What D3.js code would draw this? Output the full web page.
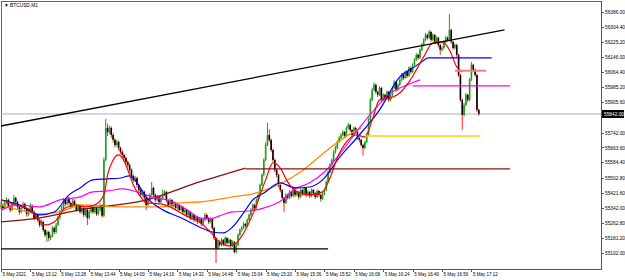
<!DOCTYPE html>
<html lang="en">
<head>
<meta charset="UTF-8">
<title>BTCUSD,M1</title>
<script src="https://cdn.jsdelivr.net/npm/d3@7/dist/d3.min.js"></script>
<style>
  body { margin: 0; background: #fff; }
  svg { display: block; }
  .axis text { font-family: "Liberation Sans", Arial, sans-serif; font-size: 4.8px; fill: #000; }
  .xaxis text { font-size: 4.5px; }
  .axis path, .axis line { stroke: #555; shape-rendering: crispEdges; }
  .title { font-family: "Liberation Sans", Arial, sans-serif; font-size: 4.8px; }
</style>
</head>
<body>
<script>
// M1 bars, 5 May 2021 from 12:56
var opens = [55350,55357,55341,55368,55384,55352,55331,55363,55395,55373,
55347,55320,55341,55363,55336,55309,55331,55352,55320,55288,
55304,55277,55251,55267,55224,55197,55213,55181,55192,55235,
55213,55251,55288,55320,55341,55384,55363,55395,55368,55347,
55379,55357,55331,55352,55320,55341,55304,55331,55288,55320,
55347,55320,55341,55309,55331,55357,55300,55597,55768,55746,
55768,55730,55704,55677,55693,55661,55640,55624,55608,55586,
55570,55544,55512,55491,55501,55464,55437,55411,55427,55395,
55357,55384,55411,55448,55411,55384,55400,55373,55395,55411,
55427,55384,55357,55384,55352,55368,55341,55357,55331,55347,
55320,55331,55304,55320,55288,55304,55277,55293,55267,55283,
55256,55277,55304,55288,55267,55283,55235,55181,55128,55160,
55144,55171,55149,55181,55155,55171,55139,55160,55107,55144,
55197,55224,55235,55256,55245,55277,55304,55331,55357,55341,
55384,55411,55464,55517,55597,55677,55730,55704,55650,55597,
55544,55517,55464,55437,55395,55368,55411,55395,55427,55405,
55437,55411,55427,55400,55437,55416,55448,55411,55427,55405,
55437,55421,55400,55432,55411,55389,55416,55437,55480,55533,
55570,55597,55640,55661,55693,55714,55730,55746,55725,55768,
55784,55757,55730,55768,55746,55714,55704,55677,55661,55693,
55730,55810,55917,55970,55997,55960,55944,55981,55917,55944,
55928,55960,55917,55944,55981,56013,55970,55997,56024,56050,
56034,56066,56045,56088,56066,56104,56130,56157,56141,56184,
56210,56237,56263,56248,56279,56237,56263,56226,56248,56210,
56184,56194,56226,56248,56237,56290,56226,56194,56210,56157,
56050,55917,55837,55890,55944,55917,56024,56104,56077,56050,
55864];
var highs = [55375,55366,55382,55398,55392,55360,55371,55410,55402,55380,
55355,55352,55375,55370,55344,55340,55366,55360,55328,55315,
55312,55285,55280,55274,55232,55222,55220,55200,55245,55242,
55262,55298,55330,55352,55395,55392,55405,55402,55375,55390,
55386,55364,55362,55358,55350,55348,55340,55338,55330,55356,
55355,55350,55348,55340,55366,55362,55610,55816,55790,55780,
55776,55740,55712,55705,55700,55668,55650,55632,55615,55595,
55578,55552,55520,55512,55508,55470,55445,55438,55434,55402,
55392,55420,55480,55455,55418,55410,55406,55405,55440,55436,
55432,55390,55394,55390,55378,55374,55366,55362,55356,55352,
55340,55336,55330,55326,55314,55310,55302,55298,55292,55288,
55288,55314,55312,55294,55292,55288,55240,55186,55170,55168,
55180,55176,55190,55186,55180,55176,55168,55165,55152,55206,
55232,55245,55265,55262,55286,55312,55340,55366,55364,55392,
55420,55472,55526,55606,55690,55795,55760,55712,55658,55605,
55552,55524,55470,55442,55400,55420,55418,55436,55432,55446,
55444,55436,55432,55446,55442,55456,55452,55436,55432,55446,
55444,55426,55440,55436,55416,55424,55446,55488,55542,55580,
55606,55648,55672,55702,55724,55740,55756,55752,55776,55795,
55790,55762,55776,55774,55752,55722,55710,55684,55700,55740,
55820,55928,55982,56010,56004,55966,55990,55986,55952,55950,
55968,55966,55952,55990,56022,56018,56006,56032,56060,56058,
56074,56072,56096,56094,56112,56140,56166,56164,56192,56220,
56246,56274,56270,56290,56284,56272,56268,56256,56254,56216,
56204,56234,56258,56256,56376,56296,56232,56218,56216,56162,
56056,55924,55900,55954,55950,56034,56120,56110,56084,56056,
55870];
var lows = [55335,55328,55333,55360,55340,55318,55325,55356,55362,55336,
55305,55312,55335,55326,55296,55300,55322,55310,55275,55280,
55265,55238,55242,55212,55185,55160,55165,55170,55186,55200,
55206,55244,55280,55312,55334,55350,55356,55358,55336,55340,
55345,55320,55325,55310,55312,55292,55296,55250,55280,55312,
55310,55312,55298,55302,55322,55290,55293,55590,55725,55735,
55715,55690,55664,55668,55648,55628,55612,55596,55572,55555,
55530,55498,55478,55482,55450,55424,55398,55402,55382,55330,
55350,55378,55405,55400,55372,55376,55360,55366,55388,55404,
55372,55345,55350,55340,55345,55330,55334,55320,55324,55308,
55312,55292,55296,55276,55280,55266,55270,55256,55260,55245,
55250,55270,55278,55256,55260,55224,55170,55048,55118,55132,
55138,55138,55142,55145,55148,55128,55132,55098,55100,55138,
55190,55215,55228,55236,55240,55270,55296,55325,55332,55336,
55378,55405,55458,55510,55590,55670,55692,55640,55586,55532,
55505,55452,55425,55385,55320,55362,55385,55388,55396,55398,
55400,55404,55388,55394,55405,55410,55400,55404,55394,55398,
55410,55388,55394,55400,55376,55382,55410,55430,55474,55525,
55562,55590,55632,55654,55686,55706,55722,55714,55718,55760,
55746,55720,55724,55736,55704,55692,55666,55620,55654,55686,
55724,55804,55910,55962,55948,55932,55938,55906,55910,55918,
55922,55906,55910,55938,55975,55960,55964,55990,56016,56024,
56028,56034,56040,56056,56060,56098,56124,56132,56136,56176,
56202,56230,56238,56242,56226,56230,56216,56220,56198,56157,
56176,56188,56220,56228,56230,56216,56184,56186,56146,56040,
55906,55757,55830,55884,55906,55910,56018,56066,56040,55852,
55832];
var closes = [55357,55341,55368,55384,55352,55331,55363,55395,55373,55347,
55320,55341,55363,55336,55309,55331,55352,55320,55288,55304,
55277,55251,55267,55224,55197,55213,55181,55192,55235,55213,
55251,55288,55320,55341,55384,55363,55395,55368,55347,55379,
55357,55331,55352,55320,55341,55304,55331,55288,55320,55347,
55320,55341,55309,55331,55357,55300,55597,55768,55746,55768,
55730,55704,55677,55693,55661,55640,55624,55608,55586,55570,
55544,55512,55491,55501,55464,55437,55411,55427,55395,55357,
55384,55411,55448,55411,55384,55400,55373,55395,55411,55427,
55384,55357,55384,55352,55368,55341,55357,55331,55347,55320,
55331,55304,55320,55288,55304,55277,55293,55267,55283,55256,
55277,55304,55288,55267,55283,55235,55181,55128,55160,55144,
55171,55149,55181,55155,55171,55139,55160,55107,55144,55197,
55224,55235,55256,55245,55277,55304,55331,55357,55341,55384,
55411,55464,55517,55597,55677,55730,55704,55650,55597,55544,
55517,55464,55437,55395,55368,55411,55395,55427,55405,55437,
55411,55427,55400,55437,55416,55448,55411,55427,55405,55437,
55421,55400,55432,55411,55389,55416,55437,55480,55533,55570,
55597,55640,55661,55693,55714,55730,55746,55725,55768,55784,
55757,55730,55768,55746,55714,55704,55677,55661,55693,55730,
55810,55917,55970,55997,55960,55944,55981,55917,55944,55928,
55960,55917,55944,55981,56013,55970,55997,56024,56050,56034,
56066,56045,56088,56066,56104,56130,56157,56141,56184,56210,
56237,56263,56248,56279,56237,56263,56226,56248,56210,56184,
56194,56226,56248,56237,56290,56226,56194,56210,56157,56050,
55917,55837,55890,55944,55917,56024,56104,56077,56050,55864,
55842];

// moving averages (bar index, price)
var redMaBars = [0,8,16,24,29,35,40,46,51,56,58,61,64,66,69,72,76,79,87,92,97,103,108,114,119,124,128,133,138,144,148,152,156,161,168,175,179,183,188,193,198,202,206,212,217,222,226,230,235,240,244,248,251];
var redMaVals = [55384,55357,55331,55251,55267,55341,55357,55347,55357,55411,55517,55597,55624,55608,55544,55464,55400,55368,55363,55347,55320,55288,55267,55213,55160,55139,55155,55224,55331,55491,55581,55554,55480,55427,55411,55427,55501,55608,55693,55730,55720,55810,55917,55928,55954,56013,56077,56146,56221,56226,56184,56093,56066];
var blueMaBars = [0,10,21,29,37,43,50,58,65,70,74,79,88,97,108,115,121,126,132,137,143,152,160,168,175,184,195,206,217,225,232];
var blueMaVals = [55384,55357,55304,55320,55411,55448,55491,55496,55501,55512,55475,55400,55331,55293,55240,55213,55208,55240,55315,55384,55421,55475,55448,55453,55491,55608,55730,55864,56040,56093,56141];
var pinkMaBars = [0,10,21,32,43,50,58,66,76,82,90,97,103,108,114,119,126,135,145,153,159,168,176,184,195,206,213,221,228];
var pinkMaVals = [55331,55357,55347,55384,55400,55427,55432,55443,55421,55400,55384,55357,55320,55288,55283,55299,55320,55325,55347,55384,55437,55475,55533,55624,55768,55896,55960,55997,56024];
var orangeMaBars = [0,10,21,32,43,65,88,97,108,126,139,153,163,179,190,196];
var orangeMaVals = [55357,55331,55309,55320,55357,55347,55347,55368,55373,55400,55421,55475,55533,55661,55736,55768];
var brownMaBars = [0,21,43,79,108,133];
var brownMaVals = [55267,55288,55331,55384,55480,55554];

// horizontal levels: price, first bar, last bar
var levelPrices = [56141, 55992, 56072, 55725, 55549, 55123];
var levelFrom = [232, 224, 247, 198, 133, 0];
var levelTo = [267, 277, 264, 261, 277, 178];

var trendBars = [0, 274];
var trendVals = [55778, 56290];
var bid = 55842;

var yTicks = [56386.00, 56304.40, 56225.20, 56146.00, 56064.40, 55985.20, 55905.60, 55742.00,
  55663.60, 55584.40, 55502.80, 55421.60, 55342.00, 55262.80, 55181.20, 55102.00];
var xTickBars = [0,16,32,48,64,80,96,112,128,144,160,176,192,208,224,240,256];
var xTickLabels = ["5 May 2021","5 May 13:12","5 May 13:28","5 May 13:44","5 May 14:00","5 May 14:16",
  "5 May 14:32","5 May 14:48","5 May 15:04","5 May 15:20","5 May 15:36","5 May 15:52","5 May 16:08",
  "5 May 16:24","5 May 16:40","5 May 16:56","5 May 17:12"];

var w = 625, h = 280;
var padL = 1, padR = 601, padT = 1, padB = 269;

var svg = d3.select("body").append("svg")
  .attr("width", w)
  .attr("height", h);

var x = d3.scaleLinear().domain([0, 326.5]).range([padL, padR]);
var y = d3.scaleLinear().domain([55016, 56444]).range([padB, padT]);

// frame
svg.append("rect")
  .attr("x", padL).attr("y", padT)
  .attr("width", padR - padL).attr("height", padB - padT)
  .attr("fill", "none").attr("stroke", "#666")
  .attr("shape-rendering", "crispEdges");

var plot = svg.append("g");

// bid line
plot.append("line")
  .attr("x1", padL).attr("x2", padR)
  .attr("y1", y(bid)).attr("y2", y(bid))
  .attr("stroke", "#a7b2bd").attr("stroke-width", 1);

var idx = d3.range(closes.length);

// candles
plot.selectAll("line.wick")
  .data(idx)
  .enter()
  .append("line")
  .attr("class", "wick")
  .attr("x1", d => x(d)).attr("x2", d => x(d))
  .attr("y1", d => y(highs[d])).attr("y2", d => y(lows[d]))
  .attr("stroke", d => closes[d] >= opens[d] ? "#1f9e1f" : "#ff2020")
  .attr("stroke-width", 1);

plot.selectAll("rect.body")
  .data(idx)
  .enter()
  .append("rect")
  .attr("class", "body")
  .attr("x", d => x(d) - 0.8)
  .attr("width", 1.6)
  .attr("y", d => y(Math.max(opens[d], closes[d])))
  .attr("height", d => Math.max(0.8, Math.abs(y(opens[d]) - y(closes[d]))))
  .attr("fill", d => closes[d] >= opens[d] ? "#1f9e1f" : "#000");

var line = d3.line()
  .x(d => x(d[0]))
  .y(d => y(d[1]))
  .curve(d3.curveMonotoneX);

function drawMa(bars, vals, color, width) {
  plot.append("path")
    .datum(bars.map((b, i) => [b, vals[i]]))
    .attr("d", line)
    .attr("fill", "none")
    .attr("stroke", color)
    .attr("stroke-width", width);
}

drawMa(brownMaBars, brownMaVals, "#8b1010", 1.3);
drawMa(orangeMaBars, orangeMaVals, "#ff8c00", 1.3);
drawMa(pinkMaBars, pinkMaVals, "#ff00ff", 1.2);
drawMa(blueMaBars, blueMaVals, "#0000ff", 1.2);
drawMa(redMaBars, redMaVals, "#ff0000", 1.2);

var levelColors = ["#0000ff", "#ff00ff", "#f08080", "#ffcc00", "#8b1010", "#000"];
var levelWidths = [1.2, 1.2, 2, 1.5, 1.3, 1.2];
levelPrices.forEach(function(p, i) {
  plot.append("line")
    .attr("x1", x(levelFrom[i])).attr("x2", x(levelTo[i]))
    .attr("y1", y(p)).attr("y2", y(p))
    .attr("stroke", levelColors[i])
    .attr("stroke-width", levelWidths[i]);
});

// trendline
plot.append("line")
  .attr("x1", x(trendBars[0])).attr("y1", y(trendVals[0]))
  .attr("x2", x(trendBars[1])).attr("y2", y(trendVals[1]))
  .attr("stroke", "#000").attr("stroke-width", 1.3);

// axes
var yAxis = d3.axisRight(y)
  .tickValues(yTicks)
  .tickSize(3)
  .tickPadding(1)
  .tickFormat(d3.format(".2f"));

svg.append("g")
  .attr("class", "axis")
  .attr("transform", `translate(${padR}, 0)`)
  .call(yAxis)
  .call(g => g.select(".domain").attr("d", `M0,${padT}V${padB}`));

var xAxis = d3.axisBottom(x)
  .tickValues(xTickBars)
  .tickSize(3)
  .tickFormat((d, i) => xTickLabels[i]);

svg.append("g")
  .attr("class", "axis xaxis")
  .attr("transform", `translate(0, ${padB})`)
  .call(xAxis)
  .call(g => g.select(".domain").attr("d", `M${padL},0H${padR}`))
  .call(g => g.selectAll("text").attr("text-anchor", "start").attr("x", 1).attr("y", 3.5));

// current price tag
svg.append("rect")
  .attr("x", padR + 1).attr("y", y(bid) - 4)
  .attr("width", 22).attr("height", 8)
  .attr("fill", "#000");
svg.append("text")
  .attr("class", "title")
  .attr("x", padR + 3).attr("y", y(bid) + 1.8)
  .attr("fill", "#fff")
  .text(d3.format(".2f")(bid));

// title
svg.append("text")
  .attr("class", "title")
  .attr("x", 4).attr("y", 7)
  .text("\u25BC BTCUSD,M1");
</script>
</body>
</html>
